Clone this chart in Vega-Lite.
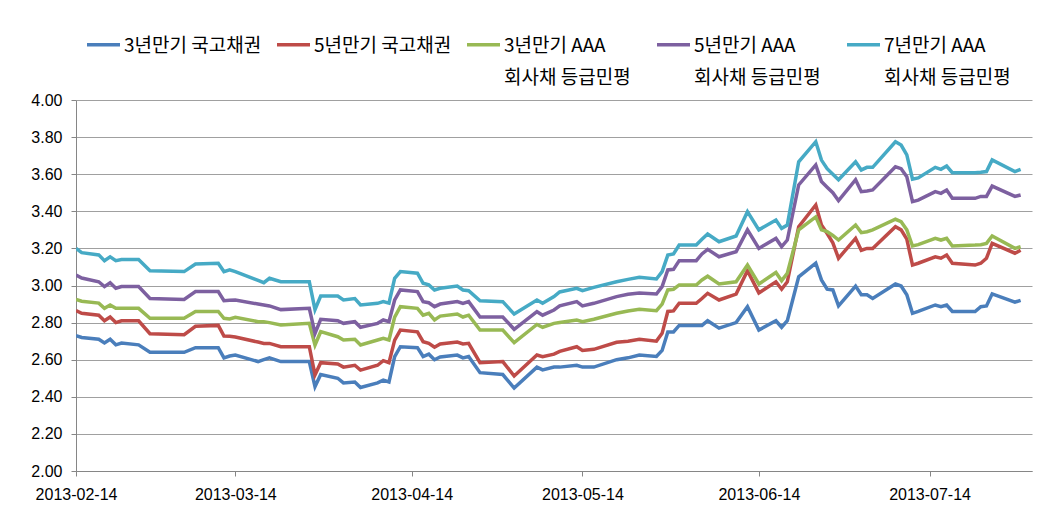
{
  "$schema": "https://vega.github.io/schema/vega-lite/v6.json",
  "width": 956,
  "height": 371,
  "autosize": {"type": "none"},
  "padding": {"left": 76, "top": 100, "right": 10, "bottom": 40},
  "background": "white",
  "config": {"view": {"stroke": null}},
  "data": {"values": [
    {"date": "2013-02-14", "s1": 2.73, "s2": 2.865, "s3": 2.925, "s4": 3.057, "s5": 3.20},
    {"date": "2013-02-15", "s1": 2.72, "s2": 2.85, "s3": 2.915, "s4": 3.04, "s5": 3.177},
    {"date": "2013-02-18", "s1": 2.71, "s2": 2.84, "s3": 2.905, "s4": 3.02, "s5": 3.165},
    {"date": "2013-02-19", "s1": 2.69, "s2": 2.81, "s3": 2.877, "s4": 2.994, "s5": 3.134},
    {"date": "2013-02-20", "s1": 2.71, "s2": 2.83, "s3": 2.895, "s4": 3.015, "s5": 3.155},
    {"date": "2013-02-21", "s1": 2.68, "s2": 2.80, "s3": 2.877, "s4": 2.985, "s5": 3.134},
    {"date": "2013-02-22", "s1": 2.69, "s2": 2.81, "s3": 2.877, "s4": 2.994, "s5": 3.14},
    {"date": "2013-02-25", "s1": 2.68, "s2": 2.81, "s3": 2.877, "s4": 2.994, "s5": 3.14},
    {"date": "2013-02-27", "s1": 2.64, "s2": 2.74, "s3": 2.823, "s4": 2.93, "s5": 3.08},
    {"date": "2013-03-05", "s1": 2.64, "s2": 2.735, "s3": 2.823, "s4": 2.925, "s5": 3.075},
    {"date": "2013-03-07", "s1": 2.665, "s2": 2.78, "s3": 2.86, "s4": 2.967, "s5": 3.116},
    {"date": "2013-03-11", "s1": 2.665, "s2": 2.785, "s3": 2.86, "s4": 2.967, "s5": 3.12},
    {"date": "2013-03-12", "s1": 2.61, "s2": 2.727, "s3": 2.823, "s4": 2.918, "s5": 3.075},
    {"date": "2013-03-13", "s1": 2.62, "s2": 2.726, "s3": 2.82, "s4": 2.92, "s5": 3.085},
    {"date": "2013-03-14", "s1": 2.625, "s2": 2.722, "s3": 2.829, "s4": 2.922, "s5": 3.075},
    {"date": "2013-03-18", "s1": 2.59, "s2": 2.695, "s3": 2.805, "s4": 2.90, "s5": 3.027},
    {"date": "2013-03-19", "s1": 2.60, "s2": 2.688, "s3": 2.805, "s4": 2.895, "s5": 3.015},
    {"date": "2013-03-20", "s1": 2.61, "s2": 2.688, "s3": 2.80, "s4": 2.89, "s5": 3.039},
    {"date": "2013-03-22", "s1": 2.59, "s2": 2.67, "s3": 2.787, "s4": 2.87, "s5": 3.02},
    {"date": "2013-03-27", "s1": 2.59, "s2": 2.67, "s3": 2.796, "s4": 2.877, "s5": 3.02},
    {"date": "2013-03-28", "s1": 2.455, "s2": 2.518, "s3": 2.679, "s4": 2.742, "s5": 2.87},
    {"date": "2013-03-29", "s1": 2.52, "s2": 2.584, "s3": 2.751, "s4": 2.818, "s5": 2.943},
    {"date": "2013-04-01", "s1": 2.50, "s2": 2.577, "s3": 2.724, "s4": 2.81, "s5": 2.943},
    {"date": "2013-04-02", "s1": 2.475, "s2": 2.56, "s3": 2.706, "s4": 2.796, "s5": 2.922},
    {"date": "2013-04-04", "s1": 2.48, "s2": 2.57, "s3": 2.71, "s4": 2.805, "s5": 2.93},
    {"date": "2013-04-05", "s1": 2.45, "s2": 2.544, "s3": 2.679, "s4": 2.775, "s5": 2.895},
    {"date": "2013-04-08", "s1": 2.475, "s2": 2.57, "s3": 2.706, "s4": 2.796, "s5": 2.904},
    {"date": "2013-04-09", "s1": 2.49, "s2": 2.595, "s3": 2.715, "s4": 2.814, "s5": 2.913},
    {"date": "2013-04-10", "s1": 2.48, "s2": 2.584, "s3": 2.706, "s4": 2.805, "s5": 2.905},
    {"date": "2013-04-11", "s1": 2.617, "s2": 2.706, "s3": 2.83, "s4": 2.922, "s5": 3.039},
    {"date": "2013-04-12", "s1": 2.67, "s2": 2.76, "s3": 2.886, "s4": 2.976, "s5": 3.075},
    {"date": "2013-04-15", "s1": 2.665, "s2": 2.75, "s3": 2.877, "s4": 2.967, "s5": 3.066},
    {"date": "2013-04-16", "s1": 2.617, "s2": 2.697, "s3": 2.84, "s4": 2.913, "s5": 3.012},
    {"date": "2013-04-17", "s1": 2.63, "s2": 2.688, "s3": 2.85, "s4": 2.907, "s5": 3.003},
    {"date": "2013-04-18", "s1": 2.60, "s2": 2.667, "s3": 2.814, "s4": 2.886, "s5": 2.976},
    {"date": "2013-04-19", "s1": 2.615, "s2": 2.685, "s3": 2.835, "s4": 2.90, "s5": 2.985},
    {"date": "2013-04-22", "s1": 2.625, "s2": 2.695, "s3": 2.846, "s4": 2.913, "s5": 2.997},
    {"date": "2013-04-23", "s1": 2.61, "s2": 2.685, "s3": 2.83, "s4": 2.904, "s5": 2.976},
    {"date": "2013-04-24", "s1": 2.617, "s2": 2.688, "s3": 2.84, "s4": 2.913, "s5": 2.972},
    {"date": "2013-04-26", "s1": 2.53, "s2": 2.584, "s3": 2.76, "s4": 2.83, "s5": 2.918},
    {"date": "2013-04-30", "s1": 2.52, "s2": 2.59, "s3": 2.76, "s4": 2.83, "s5": 2.913},
    {"date": "2013-05-02", "s1": 2.447, "s2": 2.512, "s3": 2.692, "s4": 2.764, "s5": 2.846},
    {"date": "2013-05-06", "s1": 2.56, "s2": 2.625, "s3": 2.79, "s4": 2.859, "s5": 2.922},
    {"date": "2013-05-07", "s1": 2.545, "s2": 2.616, "s3": 2.775, "s4": 2.84, "s5": 2.904},
    {"date": "2013-05-09", "s1": 2.56, "s2": 2.63, "s3": 2.796, "s4": 2.868, "s5": 2.94},
    {"date": "2013-05-10", "s1": 2.56, "s2": 2.645, "s3": 2.80, "s4": 2.89, "s5": 2.965},
    {"date": "2013-05-13", "s1": 2.57, "s2": 2.67, "s3": 2.814, "s4": 2.913, "s5": 2.985},
    {"date": "2013-05-14", "s1": 2.56, "s2": 2.65, "s3": 2.805, "s4": 2.89, "s5": 2.972},
    {"date": "2013-05-16", "s1": 2.56, "s2": 2.656, "s3": 2.818, "s4": 2.904, "s5": 2.99},
    {"date": "2013-05-20", "s1": 2.60, "s2": 2.694, "s3": 2.85, "s4": 2.94, "s5": 3.02},
    {"date": "2013-05-22", "s1": 2.61, "s2": 2.70, "s3": 2.863, "s4": 2.953, "s5": 3.033},
    {"date": "2013-05-24", "s1": 2.625, "s2": 2.71, "s3": 2.872, "s4": 2.96, "s5": 3.044},
    {"date": "2013-05-27", "s1": 2.617, "s2": 2.70, "s3": 2.864, "s4": 2.954, "s5": 3.035},
    {"date": "2013-05-28", "s1": 2.65, "s2": 2.742, "s3": 2.90, "s4": 2.994, "s5": 3.075},
    {"date": "2013-05-29", "s1": 2.75, "s2": 2.86, "s3": 2.976, "s4": 3.084, "s5": 3.164},
    {"date": "2013-05-30", "s1": 2.75, "s2": 2.863, "s3": 2.98, "s4": 3.087, "s5": 3.17},
    {"date": "2013-05-31", "s1": 2.785, "s2": 2.904, "s3": 3.003, "s4": 3.134, "s5": 3.218},
    {"date": "2013-06-03", "s1": 2.785, "s2": 2.904, "s3": 3.003, "s4": 3.134, "s5": 3.218},
    {"date": "2013-06-04", "s1": 2.785, "s2": 2.93, "s3": 3.03, "s4": 3.17, "s5": 3.249},
    {"date": "2013-06-05", "s1": 2.81, "s2": 2.958, "s3": 3.05, "s4": 3.195, "s5": 3.278},
    {"date": "2013-06-07", "s1": 2.77, "s2": 2.922, "s3": 3.008, "s4": 3.155, "s5": 3.236},
    {"date": "2013-06-10", "s1": 2.80, "s2": 2.954, "s3": 3.02, "s4": 3.182, "s5": 3.267},
    {"date": "2013-06-12", "s1": 2.886, "s2": 3.08, "s3": 3.11, "s4": 3.30, "s5": 3.398},
    {"date": "2013-06-14", "s1": 2.76, "s2": 2.96, "s3": 3.008, "s4": 3.20, "s5": 3.30},
    {"date": "2013-06-17", "s1": 2.81, "s2": 3.02, "s3": 3.07, "s4": 3.254, "s5": 3.353},
    {"date": "2013-06-18", "s1": 2.775, "s2": 2.98, "s3": 3.026, "s4": 3.21, "s5": 3.308},
    {"date": "2013-06-19", "s1": 2.81, "s2": 3.02, "s3": 3.066, "s4": 3.245, "s5": 3.326},
    {"date": "2013-06-21", "s1": 3.047, "s2": 3.317, "s3": 3.30, "s4": 3.542, "s5": 3.667},
    {"date": "2013-06-24", "s1": 3.12, "s2": 3.434, "s3": 3.37, "s4": 3.65, "s5": 3.775},
    {"date": "2013-06-25", "s1": 3.03, "s2": 3.326, "s3": 3.30, "s4": 3.56, "s5": 3.676},
    {"date": "2013-06-26", "s1": 2.98, "s2": 3.28, "s3": 3.29, "s4": 3.53, "s5": 3.63},
    {"date": "2013-06-27", "s1": 2.976, "s2": 3.23, "s3": 3.27, "s4": 3.50, "s5": 3.60},
    {"date": "2013-06-28", "s1": 2.89, "s2": 3.147, "s3": 3.245, "s4": 3.457, "s5": 3.57},
    {"date": "2013-07-01", "s1": 2.997, "s2": 3.254, "s3": 3.326, "s4": 3.57, "s5": 3.667},
    {"date": "2013-07-02", "s1": 2.95, "s2": 3.19, "s3": 3.285, "s4": 3.506, "s5": 3.623},
    {"date": "2013-07-03", "s1": 2.95, "s2": 3.20, "s3": 3.29, "s4": 3.51, "s5": 3.637},
    {"date": "2013-07-04", "s1": 2.93, "s2": 3.20, "s3": 3.30, "s4": 3.515, "s5": 3.637},
    {"date": "2013-07-08", "s1": 3.008, "s2": 3.317, "s3": 3.357, "s4": 3.64, "s5": 3.775},
    {"date": "2013-07-09", "s1": 2.997, "s2": 3.30, "s3": 3.344, "s4": 3.63, "s5": 3.757},
    {"date": "2013-07-10", "s1": 2.95, "s2": 3.25, "s3": 3.30, "s4": 3.587, "s5": 3.704},
    {"date": "2013-07-11", "s1": 2.85, "s2": 3.11, "s3": 3.213, "s4": 3.452, "s5": 3.573},
    {"date": "2013-07-12", "s1": 2.86, "s2": 3.12, "s3": 3.22, "s4": 3.46, "s5": 3.58},
    {"date": "2013-07-15", "s1": 2.895, "s2": 3.155, "s3": 3.254, "s4": 3.506, "s5": 3.637},
    {"date": "2013-07-16", "s1": 2.886, "s2": 3.147, "s3": 3.245, "s4": 3.497, "s5": 3.626},
    {"date": "2013-07-17", "s1": 2.895, "s2": 3.164, "s3": 3.254, "s4": 3.515, "s5": 3.644},
    {"date": "2013-07-18", "s1": 2.86, "s2": 3.12, "s3": 3.213, "s4": 3.47, "s5": 3.608},
    {"date": "2013-07-22", "s1": 2.86, "s2": 3.11, "s3": 3.218, "s4": 3.47, "s5": 3.608},
    {"date": "2013-07-23", "s1": 2.886, "s2": 3.12, "s3": 3.22, "s4": 3.48, "s5": 3.61},
    {"date": "2013-07-24", "s1": 2.89, "s2": 3.147, "s3": 3.227, "s4": 3.48, "s5": 3.614},
    {"date": "2013-07-25", "s1": 2.955, "s2": 3.227, "s3": 3.267, "s4": 3.536, "s5": 3.677},
    {"date": "2013-07-29", "s1": 2.91, "s2": 3.174, "s3": 3.20, "s4": 3.48, "s5": 3.614},
    {"date": "2013-07-30", "s1": 2.92, "s2": 3.19, "s3": 3.209, "s4": 3.488, "s5": 3.626}
  ]},
  "transform": [{"fold": ["s1", "s2", "s3", "s4", "s5"], "as": ["series", "value"]}],
  "mark": {"type": "line", "strokeWidth": 3.5, "clip": true},
  "encoding": {
    "x": {
      "field": "date", "type": "temporal",
      "scale": {"type": "utc", "domain": [
        {"year": 2013, "month": 2, "date": 14, "utc": true},
        {"year": 2013, "month": 8, "date": 1, "utc": true}
      ]},
      "axis": {
        "title": null, "grid": false,
        "values": [
          {"year": 2013, "month": 2, "date": 14, "utc": true},
          {"year": 2013, "month": 3, "date": 14, "utc": true},
          {"year": 2013, "month": 4, "date": 14, "utc": true},
          {"year": 2013, "month": 5, "date": 14, "utc": true},
          {"year": 2013, "month": 6, "date": 14, "utc": true},
          {"year": 2013, "month": 7, "date": 14, "utc": true}
        ],
        "labelExpr": "utcFormat(datum.value, '%Y-%m-%d')",
        "labelFlush": false, "labelOverlap": false, "labelAngle": 0,
        "labelFont": "Liberation Sans", "labelFontSize": 16, "labelColor": "#000000",
        "labelPadding": 10,
        "domainColor": "#868686", "domainWidth": 1,
        "tickColor": "#868686", "tickSize": 5, "tickWidth": 1
      }
    },
    "y": {
      "field": "value", "type": "quantitative",
      "scale": {"domain": [2, 4], "nice": false, "zero": false},
      "axis": {
        "title": null,
        "values": [2, 2.2, 2.4, 2.6, 2.8, 3, 3.2, 3.4, 3.6, 3.8, 4],
        "format": ".2f",
        "grid": true, "gridColor": "#A0A0A0", "gridWidth": 1,
        "domainColor": "#868686", "tickColor": "#868686", "tickSize": 5,
        "labelFont": "Liberation Sans", "labelFontSize": 16, "labelColor": "#000000",
        "labelPadding": 9
      }
    },
    "color": {
      "field": "series", "type": "nominal",
      "scale": {
        "domain": ["s1", "s2", "s3", "s4", "s5"],
        "range": ["#4A7EBB", "#BE4B48", "#98B954", "#7D60A0", "#46AAC5"]
      },
      "legend": {
        "orient": "none", "legendX": 9, "legendY": -74,
        "direction": "horizontal", "title": null, "columns": 5, "gridAlign": "all",
        "symbolType": "stroke", "symbolSize": 1089, "symbolStrokeWidth": 3.5,
        "labelFont": "Noto Sans CJK KR", "labelFontSize": 19, "labelColor": "#000000",
        "labelLimit": 0, "columnPadding": 8, "labelOffset": 2,
        "labelBaseline": "alphabetic",
        "labelExpr": "datum.value == 's1' ? ['3년만기 국고채권', ' '] : datum.value == 's2' ? ['5년만기 국고채권', ' '] : datum.value == 's3' ? ['3년만기 AAA', '회사채 등급민평'] : datum.value == 's4' ? ['5년만기 AAA', '회사채 등급민평'] : ['7년만기 AAA', '회사채 등급민평']",
        "encode": {"labels": {"update": {"lineHeight": {"value": 32}, "dy": {"value": 7}}}}
      }
    }
  }
}
